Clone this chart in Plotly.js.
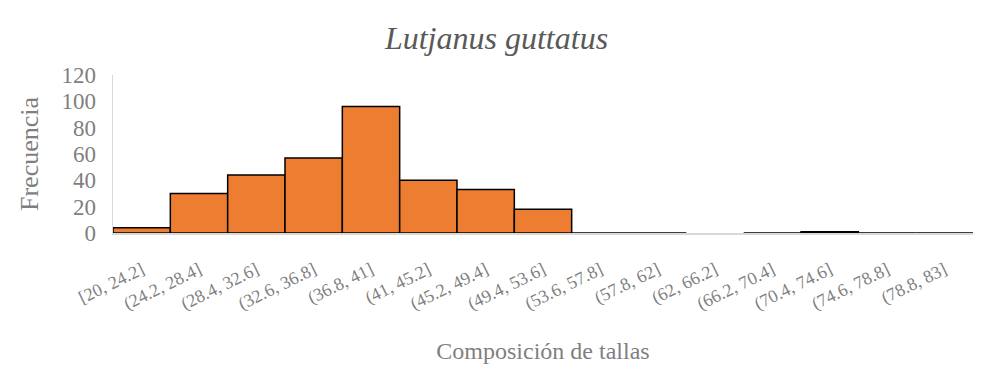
<!DOCTYPE html>
<html>
<head>
<meta charset="utf-8">
<script src="https://cdn.plot.ly/plotly-3.0.1.min.js"></script>
<style>html,body{margin:0;padding:0;background:#fff;}#chart{width:993px;height:373px;}</style>
</head>
<body>
<div id="chart"></div>
<script>
const categories = ["[20, 24.2]", "(24.2, 28.4]", "(28.4, 32.6]", "(32.6, 36.8]", "(36.8, 41]", "(41, 45.2]", "(45.2, 49.4]", "(49.4, 53.6]", "(53.6, 57.8]", "(57.8, 62]", "(62, 66.2]", "(66.2, 70.4]", "(70.4, 74.6]", "(74.6, 78.8]", "(78.8, 83]"];
const frecuencia = [4, 30, 44, 57, 96, 40, 33, 18, 0, 0, null, 0, 1, 0, 0];
const yTicks = [0, 20, 40, 60, 80, 100, 120];

const font = "'Liberation Serif', 'Times New Roman', serif";
const gray = "#7f7f7f";

Plotly.newPlot("chart", [{
  type: "bar",
  x: categories,
  y: frecuencia,
  marker: {color: "#ED7D31", line: {color: "#000000", width: 1.5}},
  hoverinfo: "x+y"
}], {
  width: 993, height: 373,
  margin: {l: 113, r: 20, t: 75, b: 140},
  paper_bgcolor: "#fff", plot_bgcolor: "#fff",
  bargap: 0,
  showlegend: false,
  title: {text: "<i>Lutjanus guttatus</i>", font: {family: font, size: 32, color: "#595959"}, x: 0.5, xanchor: "center", y: 0.9, yanchor: "middle"},
  xaxis: {
    type: "category",
    tickangle: -26,
    tickfont: {family: font, size: 18, color: gray},
    showgrid: false, zeroline: false,
    showline: true, linecolor: "#d9d9d9", linewidth: 1.5,
    ticks: "",
    ticklabelstandoff: 18,
    title: {text: "Composición de tallas", font: {family: font, size: 24, color: gray}, standoff: 28}
  },
  yaxis: {
    range: [0, 120],
    tickvals: yTicks,
    ticktext: yTicks.map(String),
    tickfont: {family: font, size: 23, color: gray},
    showgrid: false, zeroline: false,
    showline: true, linecolor: "#d9d9d9", linewidth: 1.5,
    ticks: "",
    ticklabelstandoff: 11,
    title: {text: "Frecuencia", font: {family: font, size: 26, color: gray}, standoff: 15}
  }
}, {displayModeBar: false, staticPlot: true});
</script>
</body>
</html>
